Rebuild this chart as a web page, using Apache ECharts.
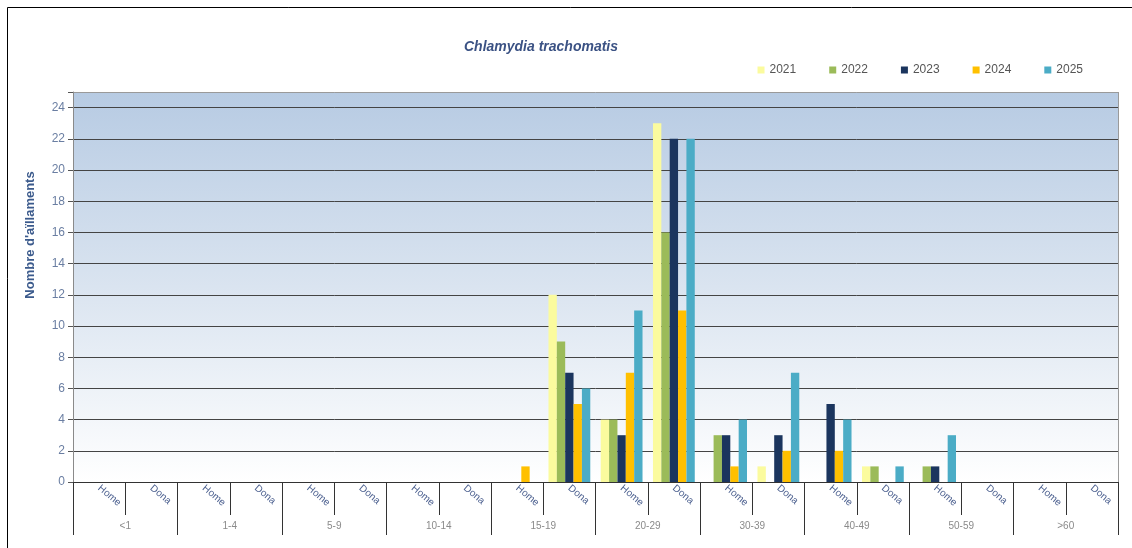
<!DOCTYPE html>
<html>
<head>
<meta charset="utf-8">
<script src="https://cdn.jsdelivr.net/npm/echarts@6/dist/echarts.min.js"></script>
<style>
    html, body { margin: 0; padding: 0; background: #fff; }
    #chart { width: 1132px; height: 548px; }
</style>
</head>
<body>
<div id="chart"></div>
<script>
// dades
var grups = ['<1', '1-4', '5-9', '10-14', '15-19', '20-29', '30-39', '40-49', '50-59', '>60'];
var sexes = ['Home', 'Dona'];
var anys = ['2021', '2022', '2023', '2024', '2025'];

// un valor per cada categoria: <1 Home, <1 Dona, 1-4 Home, ...
var v2021 = [0, 0, 0, 0, 0, 0, 0, 0, 0, 12, 4, 23, 0, 1, 0, 1, 0, 0, 0, 0];
var v2022 = [0, 0, 0, 0, 0, 0, 0, 0, 0, 9, 4, 16, 3, 0, 0, 1, 1, 0, 0, 0];
var v2023 = [0, 0, 0, 0, 0, 0, 0, 0, 0, 7, 3, 22, 3, 3, 5, 0, 1, 0, 0, 0];
var v2024 = [0, 0, 0, 0, 0, 0, 0, 0, 1, 5, 7, 11, 1, 2, 2, 0, 0, 0, 0, 0];
var v2025 = [0, 0, 0, 0, 0, 0, 0, 0, 0, 6, 11, 22, 4, 7, 4, 1, 3, 0, 0, 0];

var colors = ['#fbfb9e', '#9bbb59', '#1b355e', '#ffc000', '#4bacc6'];

(function() {
    var chart = echarts.init(document.getElementById('chart'));

    var categories = [];
    grups.forEach(function(g) {
        sexes.forEach(function(s) { categories.push(s); });
    });

    var valors = [v2021, v2022, v2023, v2024, v2025];
    var series = anys.map(function(a, i) {
        return {
            name : a,
            type : 'bar',
            xAxisIndex : 0,
            barGap : 0,
            barCategoryGap : '20%',
            itemStyle : { color : colors[i] },
            data : valors[i]
        };
    });

    // linies de la graella: 0..24 fosques, la de dalt (25) clara
    var gridColors = [];
    for (var k = 0; k < 13; k++) gridColors.push('#444');
    gridColors.push('#9a9a9a');

    var option = {
        backgroundColor : '#fff',
        animation : false,
        title : {
            text : 'Chlamydia trachomatis',
            left : 459,
            top : 35,
            textStyle : {
                color : '#3b5284',
                fontStyle : 'italic',
                fontWeight : 'bold',
                fontSize : 14,
                fontFamily : 'Liberation Sans'
            }
        },
        legend : {
            right : 44,
            top : 59,
            itemWidth : 7,
            itemHeight : 7,
            itemGap : 33,
            icon : 'rect',
            textStyle : { color : '#555', fontSize : 12, fontFamily : 'Liberation Sans' },
            data : anys
        },
        grid : {
            left : 73,
            right : 14,
            top : 92,
            bottom : 66,
            show : true,
            borderWidth : 0,
            backgroundColor : {
                type : 'linear', x : 0, y : 0, x2 : 0, y2 : 1,
                colorStops : [
                    { offset : 0, color : '#b7cbe3' },
                    { offset : 0.5, color : '#dae4f0' },
                    { offset : 1, color : '#ffffff' }
                ]
            }
        },
        xAxis : [{
            type : 'category',
            data : categories,
            position : 'bottom',
            axisLine : { lineStyle : { color : '#333', width : 1 } },
            axisTick : { show : true, interval : 0, length : 33, lineStyle : { color : '#333' } },
            axisLabel : {
                interval : 0,
                rotate : -40,
                margin : 5,
                color : '#4d6190',
                fontSize : 10,
                fontFamily : 'Liberation Sans'
            },
            splitLine : { show : false }
        }, {
            type : 'category',
            data : grups,
            position : 'bottom',
            axisLine : { show : false },
            axisTick : { show : true, interval : 0, length : 53, lineStyle : { color : '#333' } },
            axisLabel : {
                interval : 0,
                margin : 39,
                color : '#8a8a8a',
                fontSize : 10,
                fontFamily : 'Liberation Sans'
            },
            splitLine : { show : false }
        }],
        yAxis : {
            type : 'value',
            min : 0,
            max : 25,
            interval : 2,
            axisLine : { show : true, lineStyle : { color : '#8a8a8a' } },
            axisTick : { show : true, length : 5, lineStyle : { color : '#555' } },
            axisLabel : {
                color : '#6a7ea2',
                fontSize : 12,
                margin : 8,
                fontFamily : 'Liberation Sans',
                formatter : function(v) { return v > 24 ? '' : v; }
            },
            splitLine : { show : true, lineStyle : { color : gridColors, width : 1 } }
        },
        graphic : [{
            type : 'rect',
            shape : { x : 7.5, y : 7.5, width : 1150, height : 580 },
            style : { fill : 'none', stroke : '#000', lineWidth : 1 },
            silent : true
        }, {
            type : 'line',
            shape : { x1 : 1118.5, y1 : 92, x2 : 1118.5, y2 : 482 },
            style : { stroke : '#9a9a9a', lineWidth : 1 },
            silent : true
        }, {
            type : 'text',
            x : 30,
            y : 235,
            rotation : Math.PI / 2,
            style : {
                text : "Nombre d'aïllaments",
                fill : '#3b5a8c',
                font : 'bold 13px "Liberation Sans"',
                align : 'center',
                verticalAlign : 'middle'
            },
            silent : true
        }],
        series : series
    };

    chart.setOption(option);

    window.addEventListener('resize', function() {
        chart.resize();
    });
})();
</script>
</body>
</html>
